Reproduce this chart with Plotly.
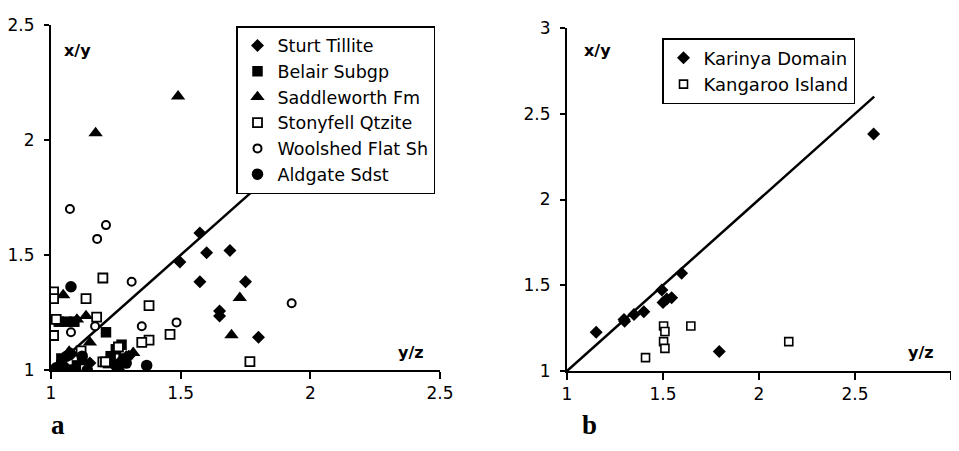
import plotly.graph_objects as go

# ---------------- Panel a data (x = y/z, y = x/y) ----------------
sturt_x = [1.574, 1.60, 1.69, 1.574, 1.75, 1.65, 1.65, 1.80, 1.497, 1.08, 1.12, 1.27, 1.30, 1.05, 1.03, 1.10, 1.15]
sturt_y = [1.596, 1.51, 1.52, 1.384, 1.384, 1.257, 1.235, 1.142, 1.47, 1.07, 1.03, 1.04, 1.06, 1.02, 1.0, 1.0, 1.03]

belair_x = [1.212, 1.272, 1.03, 1.06, 1.09, 1.04, 1.12, 1.26, 1.25, 1.10, 1.23, 1.07, 1.22, 1.28]
belair_y = [1.164, 1.11, 1.21, 1.21, 1.21, 1.05, 1.05, 1.01, 1.09, 1.02, 1.06, 1.0, 1.03, 1.05]

saddle_x = [1.49, 1.172, 1.728, 1.696, 1.047, 1.10, 1.135, 1.15, 1.317, 1.29, 1.07, 1.26, 1.02]
saddle_y = [2.19, 2.03, 1.314, 1.152, 1.326, 1.22, 1.235, 1.12, 1.075, 1.06, 1.08, 1.01, 1.0]

stony_x = [1.01, 1.01, 1.02, 1.01, 1.2, 1.135, 1.176, 1.378, 1.378, 1.35, 1.459, 1.767, 1.116, 1.2, 1.13, 1.21, 1.26]
stony_y = [1.34, 1.31, 1.22, 1.15, 1.40, 1.31, 1.23, 1.28, 1.13, 1.12, 1.155, 1.036, 1.083, 1.035, 1.005, 1.035, 1.10]

wool_x = [1.073, 1.212, 1.178, 1.311, 1.928, 1.484, 1.35, 1.077, 1.17, 1.077]
wool_y = [1.70, 1.63, 1.57, 1.384, 1.29, 1.207, 1.19, 1.164, 1.19, 1.0]

ald_x = [1.077, 1.369, 1.04, 1.08, 1.06, 1.14, 1.25, 1.02, 1.12, 1.29]
ald_y = [1.362, 1.02, 1.03, 1.0, 1.06, 1.0, 1.02, 1.01, 1.06, 1.03]

line_a = [1.0, 2.2]

# ---------------- Panel b data ----------------
kar_x = [2.597, 1.152, 1.297, 1.30, 1.349, 1.40, 1.597, 1.494, 1.50, 1.545, 1.793, 1.52]
kar_y = [2.382, 1.226, 1.30, 1.29, 1.33, 1.346, 1.57, 1.472, 1.40, 1.427, 1.113, 1.42]

kang_x = [1.503, 1.51, 1.503, 1.51, 1.645, 1.409, 2.155]
kang_y = [1.262, 1.23, 1.171, 1.132, 1.262, 1.078, 1.171]

line_b = [1.0, 2.6]

# ticks
ticks_a = [1, 1.5, 2, 2.5]
ticks_b = [1, 1.5, 2, 2.5, 3]

FONT = "DejaVu Sans, Liberation Sans, Arial, sans-serif"
OFF = 8  # page body margin offset
W, H = 959 - 2 * OFF, 451 - 2 * OFF


def fx(px):
    return min(1.0, (px - OFF) / W)


def fy(py):
    return (H - (py - OFF)) / H


fig = go.Figure()

fig.add_trace(go.Scatter(x=line_a, y=line_a, mode="lines", line=dict(color="black", width=2.5),
                         showlegend=False, xaxis="x", yaxis="y"))
fig.add_trace(go.Scatter(x=line_b, y=line_b, mode="lines", line=dict(color="black", width=2.5),
                         showlegend=False, xaxis="x2", yaxis="y2"))


def sc(name, xs, ys, symbol, size, filled, ax, ay, legend, group, lw=1.8):
    if filled:
        marker = dict(symbol=symbol, size=size, color="black", line=dict(width=0))
    else:
        marker = dict(symbol=symbol, size=size, color="white", line=dict(color="black", width=lw))
    fig.add_trace(go.Scatter(x=xs, y=ys, mode="markers", name=name, marker=marker,
                             xaxis=ax, yaxis=ay, legend=legend, legendgroup=group))


sc("Sturt Tillite", sturt_x, sturt_y, "diamond", 10, True, "x", "y", "legend", "a1")
sc("Belair Subgp", belair_x, belair_y, "square", 10.5, True, "x", "y", "legend", "a2")
sc("Saddleworth Fm", saddle_x, saddle_y, "triangle-up", 12.5, True, "x", "y", "legend", "a3")
sc("Stonyfell Qtzite", stony_x, stony_y, "square", 9, False, "x", "y", "legend", "a4")
sc("Woolshed Flat Sh", wool_x, wool_y, "circle", 8, False, "x", "y", "legend", "a5", lw=2)
sc("Aldgate Sdst", ald_x, ald_y, "circle", 11.5, True, "x", "y", "legend", "a6")

sc("Karinya Domain", kar_x, kar_y, "diamond", 10, True, "x2", "y2", "legend2", "b1")
sc("Kangaroo Island", kang_x, kang_y, "square", 8, False, "x2", "y2", "legend2", "b2", lw=1.6)

axis_common = dict(showline=True, linecolor="black", linewidth=2, showgrid=False, zeroline=False,
                   ticks="outside", tickcolor="black", tickwidth=1.5, automargin=False,
                   tickfont=dict(family=FONT, size=17, color="black"))

fig.update_layout(
    width=W, height=H,
    margin=dict(l=0, r=0, t=0, b=0),
    paper_bgcolor="white", plot_bgcolor="white",
    font=dict(family=FONT, color="black"),
    xaxis=dict(domain=[fx(51), fx(440)], range=[1, 2.5], tickvals=ticks_a,
               ticktext=[f"{t:g}" for t in ticks_a], ticklen=7, anchor="y", **axis_common),
    yaxis=dict(domain=[fy(370), fy(25)], range=[1, 2.5], tickvals=ticks_a,
               ticktext=[f"{t:g}" for t in ticks_a], ticklen=5, ticklabelstandoff=6,
               anchor="x", **axis_common),
    xaxis2=dict(domain=[fx(567), fx(957)], range=[1, 3], tickvals=ticks_b,
                ticktext=[f"{t:g}" for t in ticks_b], ticklen=7, anchor="y2", **axis_common),
    yaxis2=dict(domain=[fy(371), fy(28)], range=[1, 3], tickvals=ticks_b,
                ticktext=[f"{t:g}" for t in ticks_b], ticklen=5, ticklabelstandoff=6,
                anchor="x2", **axis_common),
    legend=dict(x=fx(236), y=fy(26), xanchor="left", yanchor="top",
                bgcolor="white", bordercolor="black", borderwidth=1.5,
                font=dict(family=FONT, size=17.5, color="black"),
                traceorder="grouped", tracegroupgap=0, itemwidth=30),
    legend2=dict(x=fx(662), y=fy(38), xanchor="left", yanchor="top",
                 bgcolor="white", bordercolor="black", borderwidth=1.5,
                 font=dict(family=FONT, size=18, color="black"),
                 traceorder="grouped", tracegroupgap=0, itemwidth=30),
    showlegend=True,
)

ann_font = dict(family="DejaVu Sans, sans-serif", size=16, color="black")
fig.add_annotation(x=1.104, y=2.39, xref="x", yref="y", text="<b>x/y</b>", showarrow=False, font=ann_font)
fig.add_annotation(x=2.39, y=1.078, xref="x", yref="y", text="<b>y/z</b>", showarrow=False, font=ann_font)
fig.add_annotation(x=1.159, y=2.87, xref="x2", yref="y2", text="<b>x/y</b>", showarrow=False, font=ann_font)
fig.add_annotation(x=2.846, y=1.11, xref="x2", yref="y2", text="<b>y/z</b>", showarrow=False, font=ann_font)

lab_font = dict(family="Liberation Serif, Times New Roman, serif", size=27, color="black")
fig.add_annotation(x=fx(58), y=fy(442), xref="paper", yref="paper", text="<b>a</b>",
                   showarrow=False, font=lab_font, xanchor="center", yanchor="bottom")
fig.add_annotation(x=fx(589), y=fy(442), xref="paper", yref="paper", text="<b>b</b>",
                   showarrow=False, font=lab_font, xanchor="center", yanchor="bottom")

fig.write_html("out.html")
